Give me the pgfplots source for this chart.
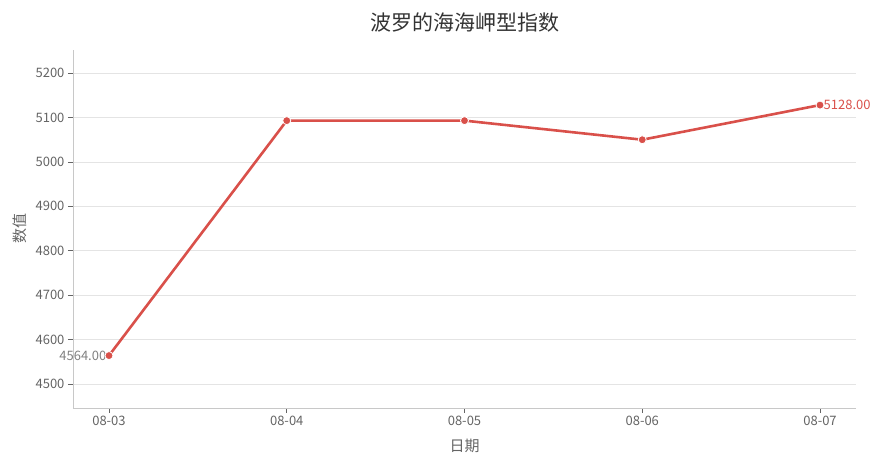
\documentclass[border=0pt]{standalone}
\usepackage{fontspec}
\setmainfont{Noto Sans CJK SC}
\usepackage{pgfplots}
\pgfplotsset{compat=1.18}

\definecolor{linered}{RGB}{217,80,74}
\definecolor{textgrey}{RGB}{100,100,100}
\definecolor{spine}{RGB}{200,200,200}
\definecolor{gridgrey}{RGB}{228,228,228}

\begin{document}
\begin{tikzpicture}
\begin{axis}[
    name=ax,
    anchor=south west, at={(0,0)},
    scale only axis,
    width=783pt, height=358pt,
    xmin=-0.2025, xmax=4.2025,
    ymin=4446, ymax=5252,
    xtick={0,1,2,3,4},
    xticklabels={08-03,08-04,08-05,08-06,08-07},
    ytick={4500,4600,4700,4800,4900,5000,5100,5200},
    axis x line*=bottom, axis y line*=left,
    axis line style={spine, line width=0.8pt},
    tick align=outside,
    major tick length=5pt,
    tick style={textgrey, line width=0.8pt},
    ymajorgrids=true,
    grid style={gridgrey, line width=0.7pt},
    ticklabel style={font=\fontsize{13}{15}\selectfont, text=textgrey},
    /pgf/number format/assume math mode=true,
    /pgf/number format/1000 sep={},
    xlabel={日期}, ylabel={数值},
    label style={font=\fontsize{15}{17}\selectfont, text=textgrey},
    xlabel style={yshift=-6pt},
    ylabel style={yshift=2pt},
    title={波罗的海海岬型指数},
    title style={font=\fontsize{21}{24}\selectfont, text={black!80}, yshift=8pt},
    clip=false,
]
\addplot[color=linered, line width=2.6pt, mark=*, mark size=4pt,
    mark options={fill=linered, draw=white, line width=0.8pt}]
    coordinates {(0,4564) (1,5093) (2,5093) (3,5050) (4,5128)};
\node[anchor=east, text=gray, font=\fontsize{13}{15}\selectfont, inner sep=1pt,
    xshift=-1.5pt] at (axis cs:0,4564) {4564.00};
\node[anchor=west, text=linered, font=\fontsize{13}{15}\selectfont, inner sep=1pt,
    xshift=2.5pt] at (axis cs:4,5128) {5128.00};
\end{axis}
\pgfresetboundingbox
\path[use as bounding box] (ax.south west) ++(-73pt,-60pt) rectangle ++(884pt,468pt);
\end{tikzpicture}
\end{document}
